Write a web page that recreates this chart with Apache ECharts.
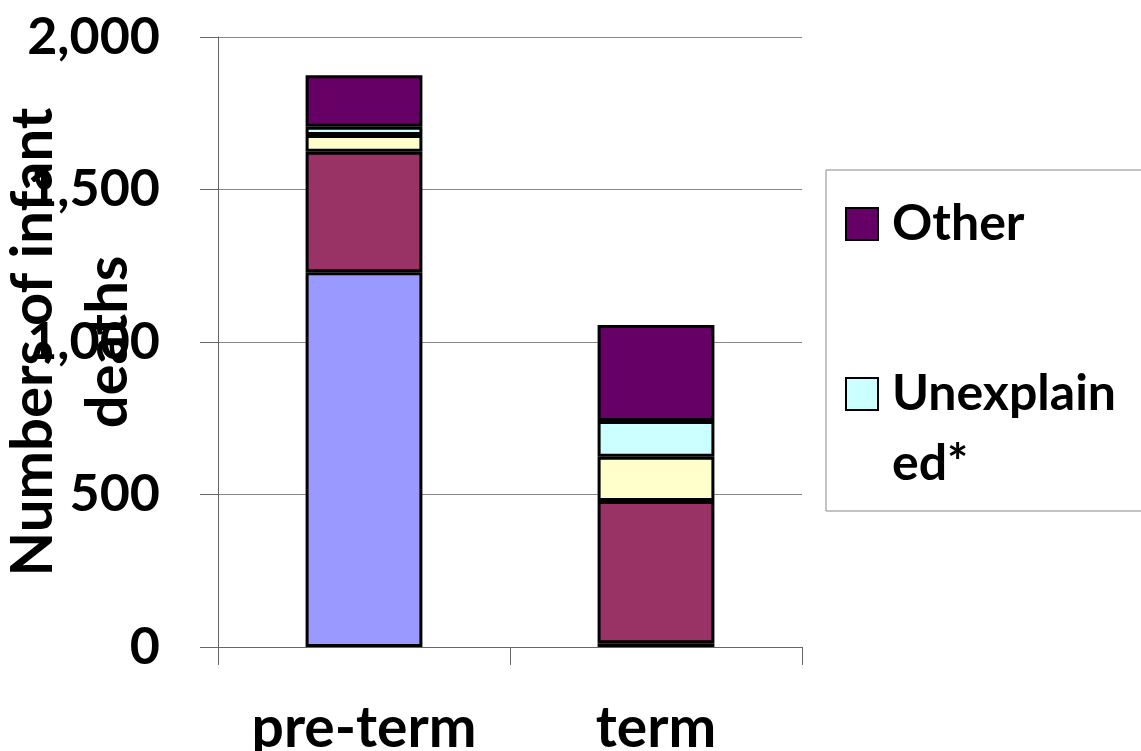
<!DOCTYPE html>
<html>
<head>
<meta charset="utf-8">
<script src="https://cdn.jsdelivr.net/npm/echarts@6/dist/echarts.min.js"></script>
<style>
  html, body { margin: 0; padding: 0; background: #fff; }
  #chart { width: 1141px; height: 751px; }
</style>
</head>
<body>
<div id="chart"></div>
<script>
// categories on the x axis
var categories = ['pre-term', 'term']

// stacked segments, bottom to top
var seriesNames = ['Immaturity', 'Congenital', 'Infection', 'Unexplained*', 'Other']
var immaturity = [1229, 12]
var congenital = [395, 467]
var infection = [55, 145]
var unexplained = [27, 117]
var other = [169, 315]
var seriesData = [immaturity, congenital, infection, unexplained, other]
var seriesColors = ['#9999FF', '#993366', '#FFFFCC', '#CCFFFF', '#660066']

var yTicks = [0, 500, 1000, 1500, 2000]

var FONT = 'Lato'

var chart = echarts.init(document.getElementById('chart'))

var series = seriesNames.map(function (name, i) {
  return {
    name: name,
    type: 'bar',
    stack: 'deaths',
    barWidth: '40%',
    data: seriesData[i],
    itemStyle: {
      color: seriesColors[i],
      borderColor: '#000',
      borderWidth: 3
    }
  }
})

chart.setOption({
  animation: false,
  textStyle: { fontFamily: FONT, color: '#000' },
  grid: {
    left: 218,
    right: 339,
    top: 37,
    bottom: 104,
    containLabel: false,
    outerBoundsMode: 'none'
  },
  legend: {
    orient: 'vertical',
    left: 826,
    top: 170,
    padding: [19, 40, 12, 19],
    itemGap: 30,
    itemWidth: 32,
    itemHeight: 32,
    icon: 'rect',
    selectedMode: false,
    backgroundColor: '#fff',
    borderColor: '#888',
    borderWidth: 1,
    itemStyle: { borderColor: '#000', borderWidth: 2 },
    textStyle: {
      fontFamily: FONT,
      fontWeight: 'bold',
      fontSize: 50,
      lineHeight: 70,
      color: '#000',
      padding: [0, 0, 0, 9]
    },
    formatter: function (name) {
      // first line sits beside the marker, the rest wraps below it
      return name === 'Unexplained*' ? '\nUnexplain\ned*' : name
    },
    data: ['Other', 'Unexplained*']
  },
  xAxis: {
    type: 'category',
    data: categories,
    axisLine: { lineStyle: { color: '#666', width: 1 } },
    axisTick: { show: true, length: 18, lineStyle: { color: '#666' } },
    axisLabel: {
      interval: 0,
      margin: 53,
      fontFamily: FONT,
      fontWeight: 'bold',
      fontSize: 57,
      color: '#000'
    }
  },
  yAxis: {
    type: 'value',
    min: yTicks[0],
    max: yTicks[yTicks.length - 1],
    interval: 500,
    name: 'Numbers of infant\ndeaths',
    nameLocation: 'middle',
    nameGap: 72,
    nameMoveOverlap: false,
    nameTextStyle: {
      fontFamily: FONT,
      fontWeight: 'bold',
      fontSize: 58,
      lineHeight: 75,
      color: '#000'
    },
    axisLine: { show: true, lineStyle: { color: '#666', width: 1 } },
    axisTick: { show: true, length: 18, lineStyle: { color: '#666' } },
    splitLine: { lineStyle: { color: '#888', width: 1 } },
    axisLabel: {
      margin: 58,
      fontFamily: FONT,
      fontWeight: 'bold',
      fontSize: 52,
      color: '#000',
      formatter: function (v) {
        return v.toLocaleString('en-US')
      }
    }
  },
  series: series
})
</script>
</body>
</html>
